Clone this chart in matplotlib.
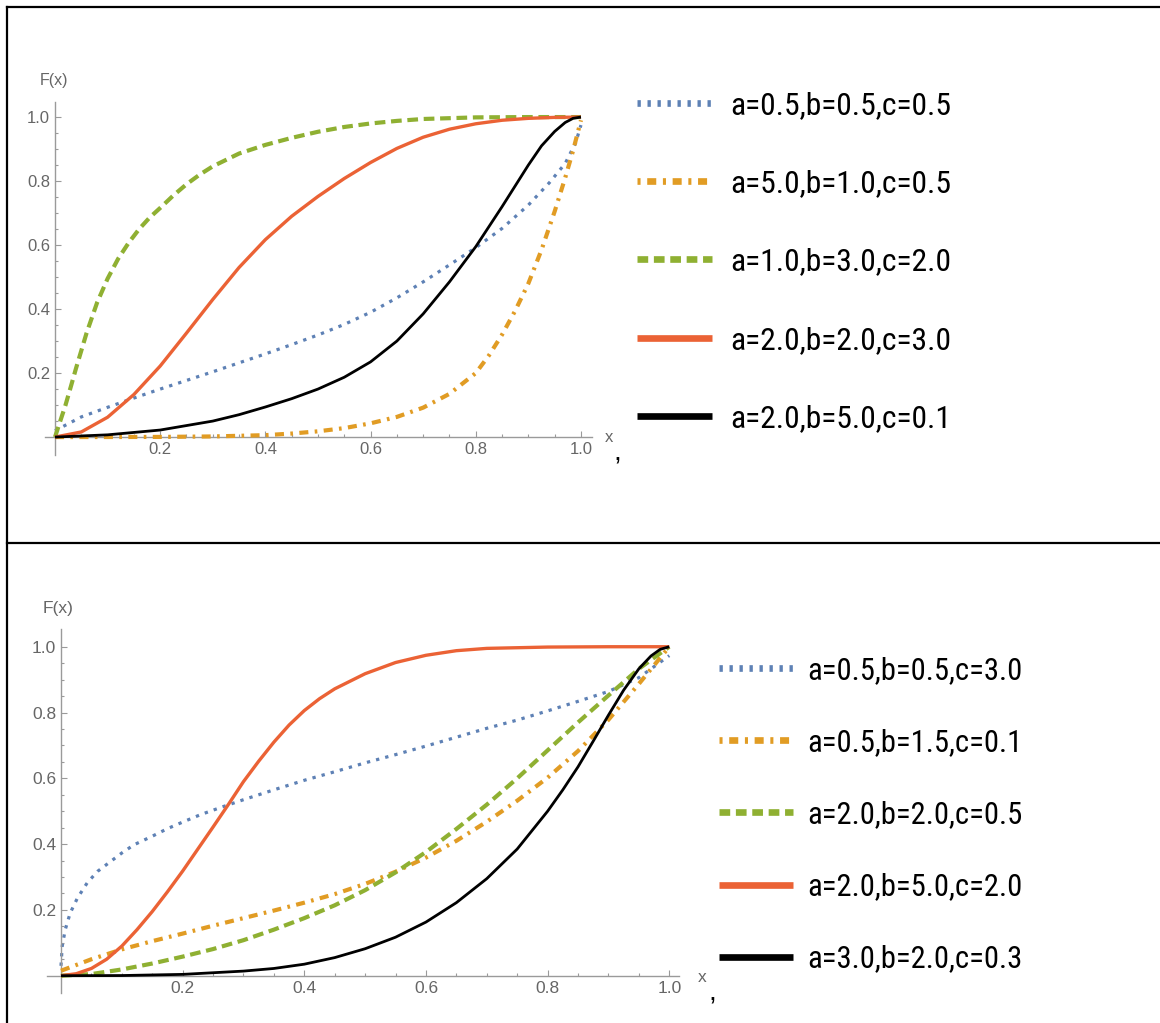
import matplotlib
matplotlib.use("Agg")
import matplotlib.pyplot as plt
from matplotlib import font_manager as fm
from matplotlib.lines import Line2D

# ---------------- data ----------------
tick_values = [0.2, 0.4, 0.6, 0.8, 1.0]
tick_labels = ["0.2", "0.4", "0.6", "0.8", "1.0"]
minor_values = [0.05, 0.1, 0.15, 0.25, 0.3, 0.35, 0.45, 0.5, 0.55,
                0.65, 0.7, 0.75, 0.85, 0.9, 0.95]

top_labels = ["a=0.5,b=0.5,c=0.5", "a=5.0,b=1.0,c=0.5", "a=1.0,b=3.0,c=2.0",
              "a=2.0,b=2.0,c=3.0", "a=2.0,b=5.0,c=0.1"]
bottom_labels = ["a=0.5,b=0.5,c=3.0", "a=0.5,b=1.5,c=0.1", "a=2.0,b=2.0,c=0.5",
                 "a=2.0,b=5.0,c=2.0", "a=3.0,b=2.0,c=0.3"]

# top panel
top_blue_x = [0, 0.05, 0.1, 0.15, 0.2, 0.25, 0.3, 0.35, 0.4, 0.45, 0.5, 0.55, 0.6,
              0.65, 0.7, 0.75, 0.8, 0.85, 0.9, 0.94, 0.97, 0.99, 1.0]
top_blue_y = [0.02, 0.063, 0.093, 0.122, 0.15, 0.177, 0.204, 0.232, 0.26, 0.289,
              0.319, 0.352, 0.39, 0.435, 0.485, 0.538, 0.592, 0.652, 0.725, 0.795,
              0.855, 0.92, 0.975]
top_orange_x = [0, 0.2, 0.3, 0.4, 0.45, 0.5, 0.55, 0.6, 0.65, 0.7, 0.75, 0.8, 0.825,
                0.85, 0.875, 0.9, 0.925, 0.95, 0.97, 0.985, 1.0]
top_orange_y = [0, 0.0005, 0.002, 0.006, 0.011, 0.018, 0.028, 0.043, 0.063, 0.092,
                0.135, 0.2, 0.255, 0.32, 0.395, 0.48, 0.585, 0.705, 0.81, 0.895, 0.99]
top_green_x = [0, 0.01, 0.02, 0.03, 0.04, 0.06, 0.08, 0.1, 0.12, 0.14, 0.16, 0.18,
               0.2, 0.225, 0.25, 0.275, 0.3, 0.35, 0.4, 0.45, 0.5, 0.55, 0.6, 0.65,
               0.7, 0.8, 0.9, 1.0]
top_green_y = [0, 0.05, 0.10, 0.157, 0.215, 0.325, 0.42, 0.495, 0.557, 0.607, 0.65,
               0.686, 0.716, 0.755, 0.79, 0.82, 0.846, 0.886, 0.913, 0.935, 0.954,
               0.969, 0.98, 0.988, 0.994, 0.999, 1.0, 1.0]
top_red_x = [0, 0.05, 0.1, 0.15, 0.2, 0.25, 0.3, 0.35, 0.4, 0.45, 0.5, 0.55, 0.6,
             0.65, 0.7, 0.75, 0.8, 0.85, 0.9, 0.95, 1.0]
top_red_y = [0, 0.016, 0.062, 0.133, 0.222, 0.325, 0.43, 0.53, 0.617, 0.69, 0.752,
             0.808, 0.858, 0.902, 0.937, 0.962, 0.979, 0.99, 0.996, 0.999, 1.0]
top_black_x = [0, 0.1, 0.2, 0.3, 0.35, 0.4, 0.45, 0.5, 0.55, 0.6, 0.65, 0.7, 0.75,
               0.8, 0.85, 0.875, 0.9, 0.925, 0.95, 0.97, 0.985, 1.0]
top_black_y = [0, 0.007, 0.022, 0.05, 0.07, 0.094, 0.12, 0.15, 0.187, 0.235, 0.3,
               0.385, 0.485, 0.595, 0.72, 0.785, 0.85, 0.91, 0.955, 0.983, 0.996, 1.0]

# bottom panel
bot_blue_x = [0, 0.002, 0.007, 0.015, 0.027, 0.043, 0.06, 0.08, 0.1, 0.12, 0.15,
              0.175, 0.2, 0.23, 0.265, 0.3, 0.35, 0.4, 0.45, 0.5, 0.55, 0.6, 0.65,
              0.7, 0.75, 0.8, 0.85, 0.9, 0.95, 1.0]
bot_blue_y = [0.03, 0.09, 0.14, 0.19, 0.236, 0.282, 0.317, 0.345, 0.373, 0.398,
              0.424, 0.447, 0.467, 0.49, 0.513, 0.535, 0.565, 0.594, 0.62, 0.647,
              0.672, 0.698, 0.725, 0.752, 0.777, 0.805, 0.834, 0.864, 0.906, 0.973]
bot_orange_x = [0, 0.05, 0.1, 0.15, 0.2, 0.25, 0.3, 0.35, 0.4, 0.45, 0.5, 0.55,
                0.6, 0.65, 0.7, 0.75, 0.8, 0.85, 0.9, 0.95, 1.0]
bot_orange_y = [0.015, 0.05, 0.08, 0.105, 0.128, 0.152, 0.175, 0.198, 0.222, 0.248,
                0.279, 0.316, 0.359, 0.41, 0.468, 0.532, 0.602, 0.683, 0.778, 0.887, 1.0]
bot_green_x = [0, 0.05, 0.1, 0.15, 0.2, 0.25, 0.3, 0.35, 0.4, 0.45, 0.5, 0.55, 0.6,
               0.65, 0.7, 0.75, 0.8, 0.85, 0.9, 0.95, 1.0]
bot_green_y = [0, 0.005, 0.019, 0.037, 0.058, 0.081, 0.108, 0.14, 0.175, 0.214, 0.26,
               0.314, 0.376, 0.446, 0.52, 0.6, 0.685, 0.77, 0.852, 0.933, 1.0]
bot_red_x = [0, 0.025, 0.05, 0.075, 0.1, 0.125, 0.15, 0.175, 0.2, 0.225, 0.25,
             0.275, 0.3, 0.325, 0.35, 0.375, 0.4, 0.425, 0.45, 0.5, 0.55, 0.6, 0.65,
             0.7, 0.8, 0.9, 1.0]
bot_red_y = [0, 0.006, 0.022, 0.05, 0.09, 0.14, 0.195, 0.255, 0.318, 0.385, 0.452,
             0.52, 0.59, 0.652, 0.71, 0.762, 0.806, 0.842, 0.872, 0.918, 0.952, 0.974,
             0.988, 0.995, 0.999, 1.0, 1.0]
bot_black_x = [0, 0.1, 0.2, 0.3, 0.35, 0.4, 0.45, 0.5, 0.55, 0.6, 0.65, 0.7, 0.75,
               0.8, 0.825, 0.85, 0.875, 0.9, 0.925, 0.95, 0.97, 0.985, 1.0]
bot_black_y = [0, 0.0005, 0.004, 0.014, 0.022, 0.035, 0.055, 0.082, 0.117, 0.163,
               0.222, 0.295, 0.385, 0.5, 0.565, 0.635, 0.713, 0.792, 0.868, 0.933,
               0.972, 0.992, 1.0]

# ---------------- styles ----------------
plt.rcParams["font.family"] = ["Liberation Sans", "DejaVu Sans"]
plt.rcParams["lines.scale_dashes"] = False

W, H = 1160, 1023
fig = plt.figure(figsize=(W / 100, H / 100), dpi=100)


def fx(px):
    return px / W


def fy(py):
    return 1 - py / H


colors = ["#5E81B5", "#E19C24", "#8FB032", "#EB6235", "#000000"]
plot_ls = [(0, (2.4, 4.4)), (0, (6.5, 4.6, 1.9, 4.6)), (0, (7.7, 4.1)), "-", "-"]
plot_lw = [2.3, 3.0, 3.0, 2.4, 2.0]
leg_ls = [(0, (2.4, 4.8)), (0, (2.2, 4.8, 6.5, 4.8)), (0, (7.7, 4.1)), "-", "-"]
leg_lw = 4.8
axis_gray = "#9a9a9a"
label_gray = "#666666"


def pick_narrow():
    names = {f.name for f in fm.fontManager.ttflist}
    for cand in ["Liberation Sans Narrow", "Arial Narrow", "Roboto Condensed",
                 "Open Sans Condensed", "Noto Sans Condensed", "DejaVu Sans Condensed"]:
        if cand in names:
            return fm.FontProperties(family=cand)
    for f in fm.fontManager.ttflist:
        fn = f.fname
        if ("Condensed" in fn or "Narrow" in fn) and f.style == "normal" \
                and str(f.weight) in ("400", "normal", "regular") \
                and "Bold" not in fn and "Light" not in fn and "Italic" not in fn:
            return fm.FontProperties(fname=fn)
    return fm.FontProperties(family="Liberation Sans")


narrow_base = pick_narrow()


def setup_axes(rect_px, xlim, ylim, tick_size):
    l, r, t, b = rect_px
    ax = fig.add_axes([fx(l), fy(b), (r - l) / W, (b - t) / H])
    ax.set_xlim(*xlim)
    ax.set_ylim(*ylim)
    for s in ("top", "right"):
        ax.spines[s].set_visible(False)
    for s in ("left", "bottom"):
        ax.spines[s].set_position(("data", 0))
        ax.spines[s].set_color(axis_gray)
        ax.spines[s].set_linewidth(1.0)
    ax.set_xticks(tick_values, labels=tick_labels)
    ax.set_yticks(tick_values, labels=tick_labels)
    ax.set_xticks(minor_values, minor=True)
    ax.set_yticks(minor_values, minor=True)
    ax.tick_params(which="both", direction="in", color=axis_gray, width=0.8)
    ax.tick_params(which="major", length=4.5, labelsize=tick_size,
                   labelcolor=label_gray, pad=3.5)
    ax.tick_params(which="minor", length=2.5)
    ax.patch.set_alpha(0)
    return ax


def draw_series(ax, xs, ys):
    for i, (x, y) in enumerate(zip(xs, ys)):
        ax.plot(x, y, color=colors[i], lw=plot_lw[i], linestyle=plot_ls[i],
                solid_capstyle="butt", dash_capstyle="butt",
                solid_joinstyle="round", zorder=2 + i)


def fit_size(label, target_w):
    p = narrow_base.copy()
    p.set_size(20)
    t = fig.text(0, 0, label, fontproperties=p)
    fig.canvas.draw()
    w = t.get_window_extent(fig.canvas.get_renderer()).width
    t.remove()
    return 20 * target_w / w


def build_legend(labels, target_w, left_px, row1_py, gap_px, hlen_px, pad_px):
    size = fit_size(labels[0], target_w)
    prop = narrow_base.copy()
    prop.set_size(size)
    em = size * 100 / 72
    handles = [Line2D([], [], color=colors[i], lw=leg_lw, linestyle=leg_ls[i],
                      solid_capstyle="butt", dash_capstyle="butt") for i in range(5)]
    ls = 1.2
    top_py = row1_py - 20
    lft = left_px
    leg = None
    for it in range(4):
        if leg is not None:
            leg.remove()
        leg = fig.legend(handles, labels, loc="upper left",
                         bbox_to_anchor=(fx(lft), fy(top_py)), frameon=False,
                         borderpad=0, borderaxespad=0, prop=prop,
                         handlelength=hlen_px / em, handletextpad=pad_px / em,
                         labelspacing=ls, handleheight=0.7)
        fig.canvas.draw()
        r = fig.canvas.get_renderer()
        cy = []
        cx = []
        for h in leg.legend_handles:
            bb = h.get_window_extent(r)
            cy.append(H - (bb.y0 + bb.y1) / 2)
            cx.append((bb.x0 + bb.x1) / 2)
        gap = (cy[-1] - cy[0]) / (len(cy) - 1)
        ls += (gap_px - gap) / em
        top_py += row1_py - cy[0]
        lft += (left_px + hlen_px / 2) - cx[0]
    leg.remove()
    leg = fig.legend(handles, labels, loc="upper left",
                     bbox_to_anchor=(fx(lft), fy(top_py)), frameon=False,
                     borderpad=0, borderaxespad=0, prop=prop,
                     handlelength=hlen_px / em, handletextpad=pad_px / em,
                     labelspacing=ls, handleheight=0.7)
    return leg


# ---------------- top panel ----------------
ax1 = setup_axes((45, 592, 101.7, 455), (-0.019, 1.021), (-0.056, 1.048), 12)
draw_series(ax1, [top_blue_x, top_orange_x, top_green_x, top_red_x, top_black_x],
            [top_blue_y, top_orange_y, top_green_y, top_red_y, top_black_y])
fig.text(fx(54), fy(85), "F(x)", ha="center", va="baseline", fontsize=11.5,
         color=label_gray)
fig.text(fx(605), fy(442), "x", ha="left", va="baseline", fontsize=12,
         color=label_gray)
fig.text(fx(613), fy(461), ",", ha="left", va="baseline", fontsize=20, color="black")

# ---------------- bottom panel ----------------
ax2 = setup_axes((46.7, 679, 629.3, 993.3), (-0.0235, 1.016), (-0.0535, 1.053), 12.5)
draw_series(ax2, [bot_blue_x, bot_orange_x, bot_green_x, bot_red_x, bot_black_x],
            [bot_blue_y, bot_orange_y, bot_green_y, bot_red_y, bot_black_y])
fig.text(fx(58), fy(613), "F(x)", ha="center", va="baseline", fontsize=12.5,
         color=label_gray)
fig.text(fx(698), fy(982), "x", ha="left", va="baseline", fontsize=12.5,
         color=label_gray)
fig.text(fx(708), fy(1001), ",", ha="left", va="baseline", fontsize=20, color="black")

# ---------------- legends ----------------
build_legend(top_labels, 222, 637, 103, 78.2, 75, 18)
build_legend(bottom_labels, 215, 719, 668, 72.2, 74, 14)

# ---------------- table borders ----------------
for seg in [([fx(7), 1], [fy(7), fy(7)]), ([fx(7), fx(7)], [fy(7), 0]),
            ([fx(7), 1], [fy(543), fy(543)])]:
    fig.add_artist(Line2D(seg[0], seg[1], transform=fig.transFigure,
                          color="black", lw=1.6))

fig.savefig("out.png", dpi=100)
